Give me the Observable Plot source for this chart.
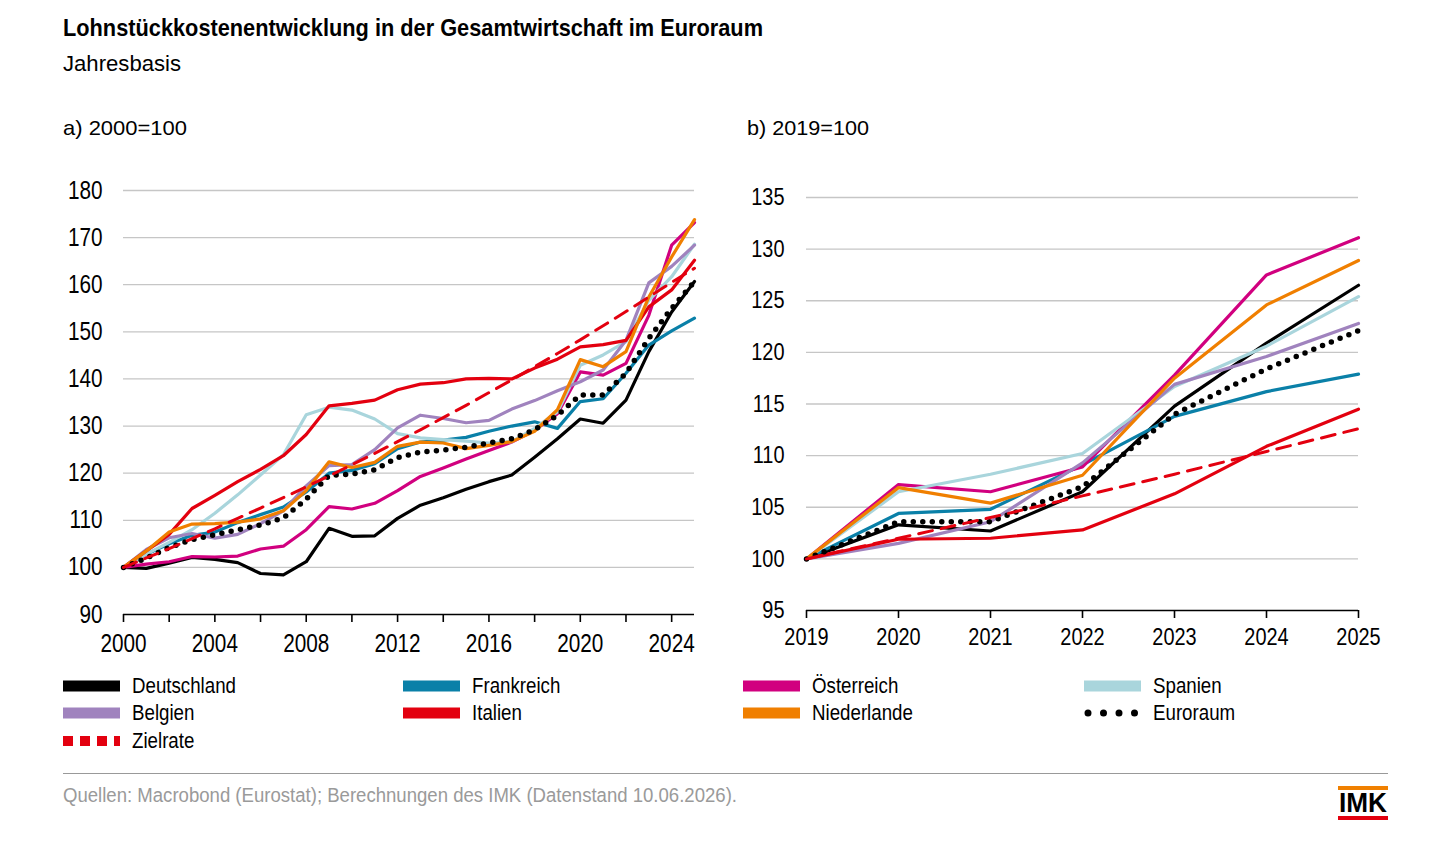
<!DOCTYPE html>
<html>
<head>
<meta charset="utf-8">
<script src="https://cdn.jsdelivr.net/npm/d3@7"></script>
<script src="https://cdn.jsdelivr.net/npm/@observablehq/plot@0.6"></script>
<style>
  html, body { margin: 0; padding: 0; background: #fff; }
  body { width: 1456px; height: 841px; position: relative; overflow: hidden;
         font-family: "Liberation Sans", Arial, sans-serif; color: #000; }
  .abs { position: absolute; white-space: nowrap; }
  .fit { display: inline-block; transform-origin: 0 0; }
  #title { left: 63px; top: 14px; font-size: 24px; font-weight: bold; }
  #subtitle { left: 63px; top: 51px; font-size: 22px; }
  .panel { top: 116px; font-size: 21px; }
  .legend-item { position: absolute; font-size: 22px; line-height: 24px; display: flex; align-items: center; }
  .legend-item svg { margin-right: 12px; flex: none; }
  .legend-item span { display: inline-block; transform-origin: 0 50%; }
  #rule { left: 63px; top: 773px; width: 1325px; height: 1px; background: #999; }
  #source { left: 63px; top: 784px; font-size: 20px; color: #9a9a9a; }
  #logo { left: 1338px; top: 786px; width: 50px; }
</style>
</head>
<body>
<div id="title" class="abs fit" data-w="700">Lohnstückkostenentwicklung in der Gesamtwirtschaft im Euroraum</div>
<div id="subtitle" class="abs fit" data-w="118">Jahresbasis</div>
<div class="abs panel fit" style="left:63px" data-w="124">a) 2000=100</div>
<div class="abs panel fit" style="left:747px" data-w="122">b) 2019=100</div>
<div id="chartA" class="abs" style="left:0px; top:160px"></div>
<div id="chartB" class="abs" style="left:720px; top:160px"></div>
<div id="legend"></div>
<div id="rule" class="abs"></div>
<div id="source" class="abs fit" data-w="674">Quellen: Macrobond (Eurostat); Berechnungen des IMK (Datenstand 10.06.2026).</div>
<div id="logo" class="abs">
  <div style="height:4px;background:#f08000"></div>
  <div style="height:26px;position:relative"><span id="imk" class="fit" data-w="48" style="position:absolute;left:1px;top:0;font-size:27px;font-weight:bold;line-height:27px">IMK</span></div>
  <div style="height:4px;background:#e3000f"></div>
</div>
<script>
// ---------- Data ----------
const seriesNames = ["Deutschland", "Frankreich", "Österreich", "Spanien", "Belgien", "Italien", "Niederlande", "Euroraum", "Zielrate"];

// Panel a) 2000=100
const yearsA = [2000, 2001, 2002, 2003, 2004, 2005, 2006, 2007, 2008, 2009, 2010, 2011, 2012,
                2013, 2014, 2015, 2016, 2017, 2018, 2019, 2020, 2021, 2022, 2023, 2024, 2025];
const deutschlandA = [100, 99.8, 100.9, 102.1, 101.7, 101.0, 98.7, 98.4, 101.2, 108.3, 106.6, 106.7, 110.4, 113.2, 114.8, 116.6, 118.2, 119.6, 123.4, 127.3, 131.5, 130.6, 135.5, 145.8, 154.2, 160.7];
const frankreichA  = [100, 102.8, 105.0, 106.8, 107.5, 109.5, 111.2, 112.8, 116.0, 120.0, 120.6, 122.0, 125.2, 126.6, 127.0, 127.6, 128.9, 130.0, 130.9, 129.5, 135.2, 135.8, 141.2, 147.2, 150.2, 152.9];
const oesterreichA = [100, 100.7, 101.2, 102.3, 102.2, 102.4, 103.9, 104.5, 108.0, 112.9, 112.4, 113.6, 116.3, 119.3, 121.1, 123.0, 124.8, 126.6, 129.1, 132.6, 141.5, 140.8, 143.3, 153.5, 168.4, 173.2];
const spanienA     = [100, 102.8, 105.3, 108.0, 111.5, 115.4, 119.6, 123.9, 132.4, 134.0, 133.4, 131.5, 128.4, 127.5, 127.1, 126.8, 126.4, 126.7, 129.5, 133.0, 142.9, 145.1, 147.9, 156.7, 161.7, 168.6];
const belgienA     = [100, 103.8, 106.3, 107.2, 106.2, 107.0, 109.3, 112.0, 117.3, 121.6, 121.8, 125.0, 129.6, 132.3, 131.6, 130.7, 131.2, 133.6, 135.4, 137.5, 139.4, 141.9, 148.2, 160.4, 163.9, 168.4];
const italienA     = [100, 103.5, 107.0, 112.5, 115.3, 118.2, 120.8, 123.7, 128.2, 134.3, 134.8, 135.5, 137.7, 138.9, 139.2, 140.0, 140.1, 140.0, 142.3, 144.2, 146.8, 147.3, 148.2, 155.3, 158.9, 165.2];
const niederlandeA = [100, 103.5, 107.5, 109.2, 109.3, 109.6, 110.3, 112.0, 116.3, 122.4, 121.2, 122.3, 125.7, 126.6, 126.4, 125.2, 125.9, 126.7, 128.9, 133.5, 144.1, 142.6, 145.8, 157.4, 165.9, 173.8];
const euroraumA    = [100, 102.0, 104.2, 105.9, 106.9, 108.0, 109.0, 110.5, 114.5, 119.5, 119.8, 120.7, 123.3, 124.5, 124.9, 125.5, 126.4, 127.3, 129.2, 132.3, 136.6, 136.6, 141.2, 148.6, 155.0, 160.7];
const zielrateA    = [100, 102.0, 104.0, 106.1, 108.2, 110.4, 112.6, 114.8, 117.1, 119.4, 121.8, 124.2, 126.7, 129.2, 131.8, 134.4, 137.1, 139.8, 142.6, 145.4, 148.3, 151.3, 154.3, 157.4, 160.5, 163.5];

// Panel b) 2019=100
const yearsB = [2019, 2020, 2021, 2022, 2023, 2024, 2025];
const deutschlandB = [100, 103.3, 102.7, 106.5, 114.8, 120.9, 126.5];
const frankreichB  = [100, 104.4, 104.8, 109.1, 113.8, 116.2, 117.9];
const oesterreichB = [100, 107.2, 106.5, 108.9, 117.8, 127.5, 131.1];
const spanienB     = [100, 106.5, 108.2, 110.2, 116.7, 120.6, 125.4];
const belgienB     = [100, 101.5, 103.6, 109.3, 116.9, 119.6, 122.8];
const italienB     = [100, 101.9, 102.0, 102.8, 106.3, 110.9, 114.5];
const niederlandeB = [100, 106.9, 105.4, 108.1, 117.5, 124.6, 128.9];
const euroraumB    = [100, 103.6, 103.6, 107.0, 114.0, 118.4, 122.1];
const zielrateB    = [100, 102.0, 104.0, 106.1, 108.2, 110.4, 112.6];

// Axis ticks
const yTicksA = [90, 100, 110, 120, 130, 140, 150, 160, 170, 180];
const xTicksA = [2000, 2002, 2004, 2006, 2008, 2010, 2012, 2014, 2016, 2018, 2020, 2022, 2024];
const xLabelsA = [2000, 2004, 2008, 2012, 2016, 2020, 2024];
const yTicksB = [95, 100, 105, 110, 115, 120, 125, 130, 135];
const xTicksB = [2019, 2020, 2021, 2022, 2023, 2024, 2025];

// Colours
const colors = ["#000000", "#0a80a8", "#d1007f", "#a9d5dc", "#a083be", "#e3000f", "#f07f00", "#000000", "#e3000f"];

// ---------- Build tables ----------
const FONT = '"Liberation Sans", Arial, sans-serif';
function table(years, arrays) {
  const rows = [];
  seriesNames.forEach((name, i) => {
    arrays[i].forEach((v, j) => rows.push({name, year: years[j], value: v}));
  });
  return rows;
}
const dataA = table(yearsA, [deutschlandA, frankreichA, oesterreichA, spanienA, belgienA, italienA, niederlandeA, euroraumA, zielrateA]);
const dataB = table(yearsB, [deutschlandB, frankreichB, oesterreichB, spanienB, belgienB, italienB, niederlandeB, euroraumB, zielrateB]);

const solidNames = seriesNames.slice(0, 7);

function condenseSvgText(svg, s) {
  svg.querySelectorAll("text").forEach(t => {
    const tr = t.getAttribute("transform");
    if (tr) {
      t.setAttribute("transform", tr + ` scale(${s},1)`);
    } else {
      const x = +(t.getAttribute("x") || 0), y = +(t.getAttribute("y") || 0);
      t.setAttribute("transform", `translate(${x},${y}) scale(${s},1) translate(${-x},${-y})`);
    }
  });
}

function makeChart(data, opts) {
  const solid = data.filter(d => solidNames.includes(d.name));
  const euro = data.filter(d => d.name === "Euroraum");
  const ziel = data.filter(d => d.name === "Zielrate");
  const svg = Plot.plot({
    width: opts.width, height: opts.height,
    marginLeft: opts.ml, marginRight: opts.mr, marginTop: opts.mt, marginBottom: opts.mb,
    style: {fontFamily: FONT, fontSize: opts.fs + "px", color: "#000", background: "transparent", overflow: "visible"},
    x: {domain: opts.xDomain, label: null},
    y: {domain: opts.yDomain, label: null},
    color: {domain: seriesNames, range: colors},
    marks: [
      Plot.ruleY(opts.yTicks.slice(1), {stroke: "#c6c6c6", strokeWidth: 1.3}),
      Plot.ruleY([opts.yDomain[0]], {stroke: "#000", strokeWidth: 1.6}),
      Plot.axisY(opts.yTicks, {tickSize: 0, tickPadding: opts.yPad, fontSize: opts.fs, label: null}),
      Plot.axisX(opts.xTicks, {tickSize: 8, tickFormat: () => "", stroke: "#000", strokeWidth: 1.6, label: null}),
      Plot.axisX(opts.xLabels, {tickSize: 0, tickPadding: opts.xPad, tickFormat: d => String(d), fontSize: opts.fs, label: null}),
      Plot.line(solid, {x: "year", y: "value", z: "name", stroke: "name", strokeWidth: opts.sw, strokeLinejoin: "round"}),
      Plot.line(euro, {x: "year", y: "value", stroke: "name", strokeWidth: 5.5, strokeDasharray: "0 9.5", strokeLinecap: "round"}),
      Plot.line(ziel, {x: "year", y: "value", stroke: "name", strokeWidth: 3, strokeDasharray: "14 9"})
    ]
  });
  condenseSvgText(svg, 0.83);
  return svg;
}

document.getElementById("chartA").appendChild(makeChart(dataA, {
  width: 720, height: 500, ml: 123, mr: 26, mt: 30, mb: 46,
  xDomain: [2000, 2025], yDomain: [90, 180], fs: 25,
  yTicks: yTicksA, xTicks: xTicksA, xLabels: xLabelsA, sw: 3.2, yPad: 21, xPad: 20
}));
document.getElementById("chartB").appendChild(makeChart(dataB, {
  width: 736, height: 500, ml: 86, mr: 98, mt: 37, mb: 50,
  xDomain: [2019, 2025], yDomain: [95, 135], fs: 24,
  yTicks: yTicksB, xTicks: xTicksB, xLabels: xTicksB, sw: 3.2, yPad: 22, xPad: 17
}));

// ---------- Legend ----------
const legendRows = [
  ["Deutschland", "Frankreich", "Österreich", "Spanien"],
  ["Belgien", "Italien", "Niederlande", "Euroraum"],
  ["Zielrate"]
];
const colX = [63, 403, 743, 1084];
const rowY = [674, 701, 729];
const legend = document.getElementById("legend");
const spans = [];
legendRows.forEach((row, r) => {
  row.forEach((name, c) => {
    const i = seriesNames.indexOf(name);
    const div = document.createElement("div");
    div.className = "legend-item";
    div.style.left = colX[c] + "px";
    div.style.top = rowY[r] + "px";
    let sw;
    if (name === "Euroraum") {
      sw = `<svg width="57" height="12"><line x1="4" y1="6" x2="54" y2="6" stroke="#000" stroke-width="7" stroke-linecap="round" stroke-dasharray="0 15.5"/></svg>`;
    } else if (name === "Zielrate") {
      sw = `<svg width="57" height="12"><line x1="0" y1="6" x2="57" y2="6" stroke="${colors[i]}" stroke-width="10" stroke-dasharray="10 7"/></svg>`;
    } else {
      sw = `<svg width="57" height="12"><rect x="0" y="0.5" width="57" height="11" fill="${colors[i]}"/></svg>`;
    }
    div.innerHTML = sw + `<span>${name}</span>`;
    legend.appendChild(div);
    spans.push(div.querySelector("span"));
  });
});

// ---------- Condense text widths (condensed typeface substitute) ----------
document.querySelectorAll(".fit").forEach(el => {
  const w = el.getBoundingClientRect().width;
  el.style.transform = `scaleX(${(+el.dataset.w) / w})`;
});
const legendScale = 104 / spans[0].getBoundingClientRect().width;
spans.forEach(s => s.style.transform = `scaleX(${legendScale})`);
</script>
</body>
</html>
